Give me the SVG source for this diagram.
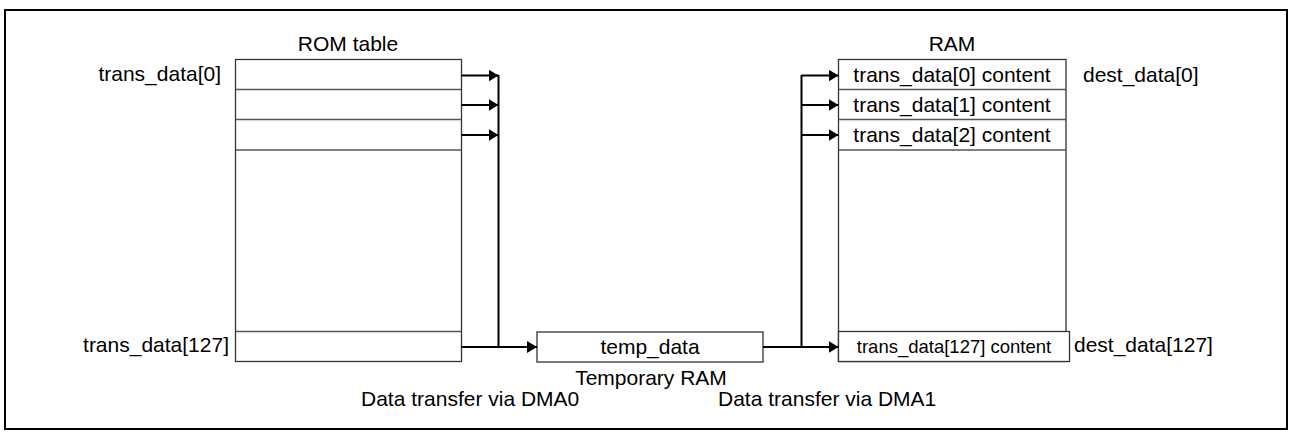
<svg xmlns="http://www.w3.org/2000/svg" width="1289" height="436" viewBox="0 0 1289 436">
  <defs>
    <marker id="arrow" viewBox="0 0 10 12" refX="10" refY="6" markerWidth="10" markerHeight="12" markerUnits="userSpaceOnUse" orient="auto">
      <path d="M0,0 L10,6 L0,12 Z" fill="#000"/>
    </marker>
    <style>
      text { font-family: "Liberation Sans", Arial, sans-serif; font-size: 21px; fill: #000; }
      .mid { text-anchor: middle; }
      .end { text-anchor: end; }
      .small { font-size: 18.5px; }
      .box { fill: #fff; stroke: #333; stroke-width: 1.3; }
      .row { stroke: #555; stroke-width: 1.3; fill: none; }
      .wire { stroke: #000; stroke-width: 2; fill: none; }
    </style>
  </defs>

  <rect x="0" y="0" width="1289" height="436" fill="#fff"/>
  <!-- outer frame -->
  <rect x="5" y="10" width="1282" height="419" fill="none" stroke="#000" stroke-width="2"/>

  <!-- ROM table -->
  <g id="rom-table">
    <text class="mid" x="348" y="51">ROM table</text>
    <rect class="box" x="235.5" y="59.5" width="226" height="302"/>
    <line class="row" x1="235.5" y1="89.5" x2="461.5" y2="89.5"/>
    <line class="row" x1="235.5" y1="119.5" x2="461.5" y2="119.5"/>
    <line class="row" x1="235.5" y1="150" x2="461.5" y2="150"/>
    <line class="row" x1="235.5" y1="331.5" x2="461.5" y2="331.5"/>
    <text class="end" x="221" y="81">trans_data[0]</text>
    <text class="end" x="229" y="352">trans_data[127]</text>
  </g>

  <!-- Temporary RAM -->
  <g id="temp-ram">
    <rect class="box" x="537" y="332" width="226" height="30"/>
    <text class="mid" x="650" y="354">temp_data</text>
    <text class="mid" x="651" y="385">Temporary RAM</text>
  </g>

  <!-- RAM -->
  <g id="ram">
    <text class="mid" x="952" y="51">RAM</text>
    <rect class="box" x="838.5" y="59.5" width="227.5" height="302"/>
    <line class="row" x1="838.5" y1="89.5" x2="1066" y2="89.5"/>
    <line class="row" x1="838.5" y1="119.5" x2="1066" y2="119.5"/>
    <line class="row" x1="838.5" y1="150" x2="1066" y2="150"/>
    <text class="mid" x="952" y="82">trans_data[0] content</text>
    <text class="mid" x="952" y="112">trans_data[1] content</text>
    <text class="mid" x="952" y="142">trans_data[2] content</text>
    <rect class="box" x="838.5" y="331.5" width="231" height="30"/>
    <text class="mid small" x="954" y="353">trans_data[127] content</text>
    <text x="1083" y="82">dest_data[0]</text>
    <text x="1074" y="352">dest_data[127]</text>
  </g>

  <!-- connectors -->
  <g id="connectors">
    <!-- DMA0: ROM table to temp_data -->
    <line class="wire" x1="498.5" y1="75" x2="498.5" y2="347"/>
    <line class="wire" x1="461.5" y1="75.5" x2="498.5" y2="75.5" marker-end="url(#arrow)"/>
    <line class="wire" x1="461.5" y1="105" x2="498.5" y2="105" marker-end="url(#arrow)"/>
    <line class="wire" x1="461.5" y1="135" x2="498.5" y2="135" marker-end="url(#arrow)"/>
    <line class="wire" x1="461.5" y1="347" x2="537" y2="347" marker-end="url(#arrow)"/>
    <!-- DMA1: temp_data to RAM -->
    <line class="wire" x1="801.5" y1="75" x2="801.5" y2="347"/>
    <line class="wire" x1="801.5" y1="75.5" x2="838.5" y2="75.5" marker-end="url(#arrow)"/>
    <line class="wire" x1="801.5" y1="105" x2="838.5" y2="105" marker-end="url(#arrow)"/>
    <line class="wire" x1="801.5" y1="135" x2="838.5" y2="135" marker-end="url(#arrow)"/>
    <line class="wire" x1="763" y1="347" x2="838.5" y2="347" marker-end="url(#arrow)"/>
  </g>

  <!-- transfer labels -->
  <g id="labels">
    <text x="361" y="406">Data transfer via DMA0</text>
    <text x="718" y="406">Data transfer via DMA1</text>
  </g>
</svg>
